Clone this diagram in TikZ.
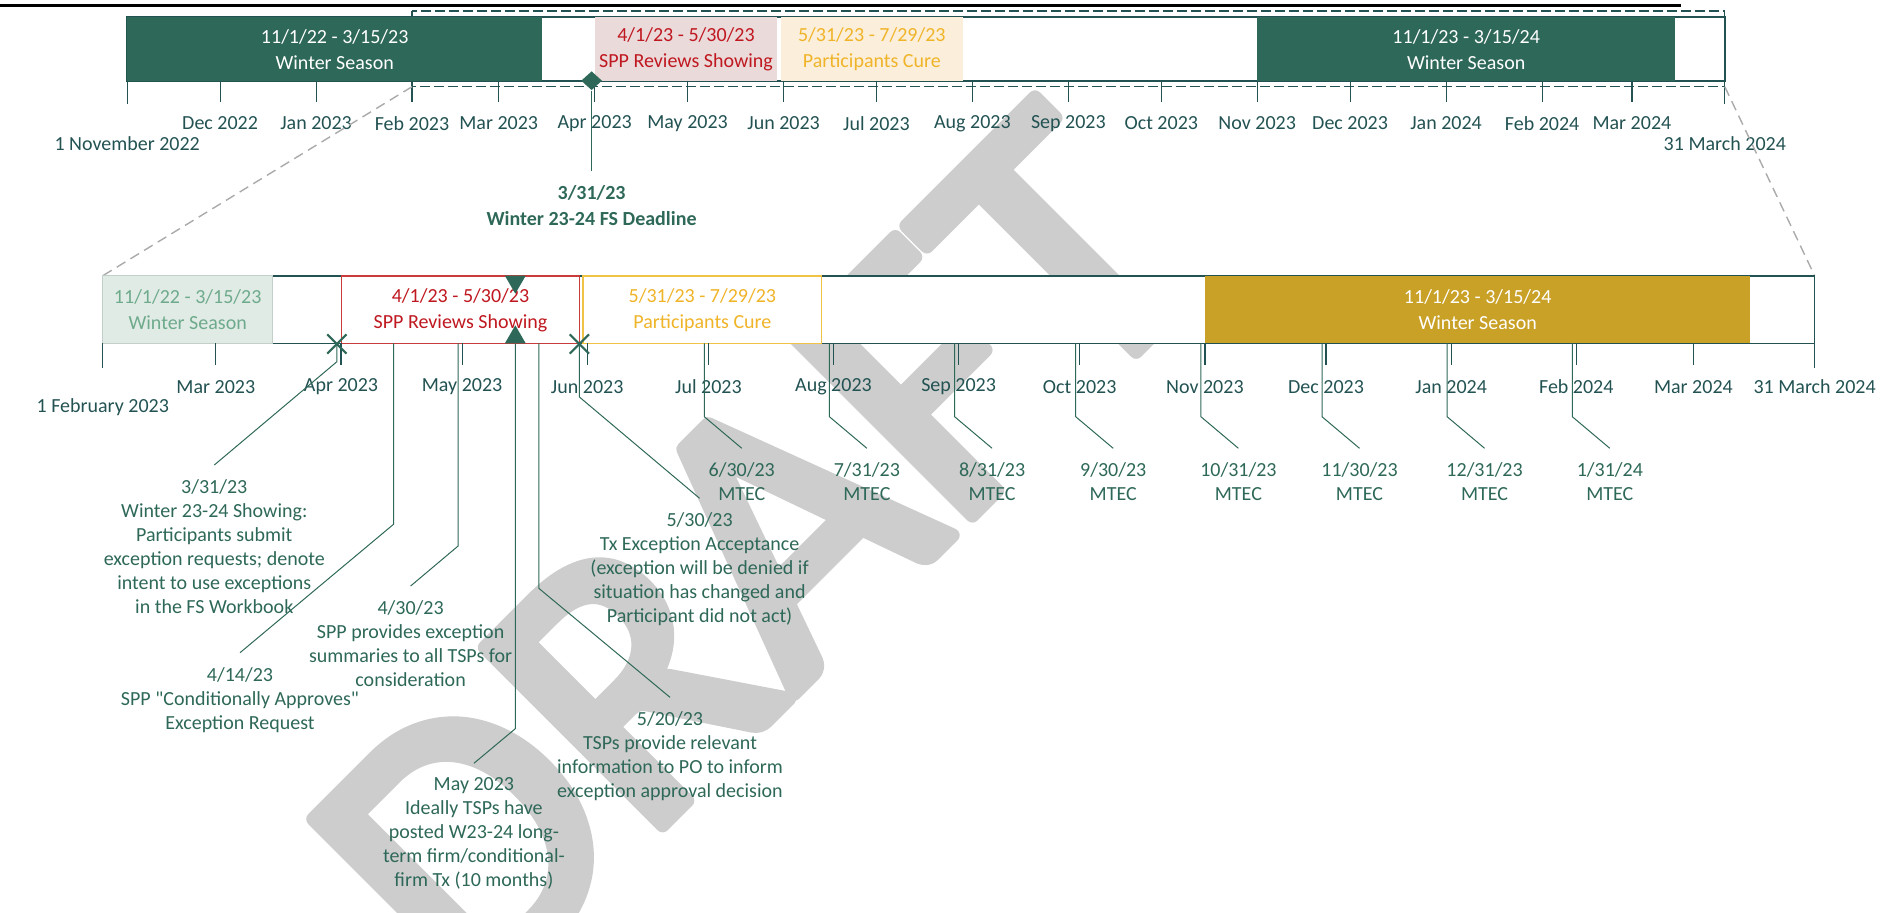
\documentclass[tikz,border=0pt]{standalone}
\usepackage{fontspec}
\setmainfont{Carlito}
\usetikzlibrary{shapes.geometric,shapes.misc}

\definecolor{sppdark}{RGB}{35,82,82}
\definecolor{sppgreen}{RGB}{46,104,88}
\definecolor{spppink}{RGB}{234,218,218}
\definecolor{sppred}{RGB}{192,24,32}
\definecolor{sppredline}{RGB}{200,60,60}
\definecolor{sppcream}{RGB}{251,238,218}
\definecolor{sppyellow}{RGB}{240,180,40}
\definecolor{sppyline}{RGB}{240,195,70}
\definecolor{sppgold}{RGB}{201,161,38}
\definecolor{sppmint}{RGB}{224,235,229}
\definecolor{sppmintline}{RGB}{195,208,201}
\definecolor{sppminttext}{RGB}{110,170,140}
\definecolor{sppgray}{RGB}{170,170,170}
\definecolor{wmgray}{RGB}{205,205,205}

\begin{document}
\begin{tikzpicture}[x=0.5pt, y=-0.5pt,
	every node/.style={inner sep=0pt, text=sppdark, font=\fontsize{10}{12}\selectfont},
	tick/.style={draw=sppdark, line width=0.6pt},
	axis/.style={fill=white, draw=sppdark, line width=0.8pt},
	bartext/.style={align=center, font=\fontsize{10}{13}\selectfont},
	note/.style={align=center, anchor=north, inner ysep=7pt, text=sppgreen},
	callout/.style={draw=sppgreen, line width=0.5pt},
	xmark/.style={cross out, draw=sppgreen, line width=1.1pt, minimum size=8.5pt},
	tri/.style={regular polygon, regular polygon sides=3, fill=sppgreen, minimum size=12pt},
	zoomline/.style={draw=sppgray, line width=0.7pt, dash pattern=on 5pt off 3pt}]
	
	\useasboundingbox (0,0) rectangle (1896,912);
	
	\node[rotate=45, anchor=base west, text=wmgray, font=\fontsize{196}{196}\selectfont] (draft) at (472,1016) {\special{pdf:literal direct 2 Tr 7 w 1 j}DRAFT\special{pdf:literal direct 0 Tr}};
	
	\draw[line width=1.4pt] (0,5.7) -- (1681,5.7);
	
	\draw[sppdark, line width=0.6pt, dash pattern=on 5pt off 2pt] (412,11) rectangle (1724.8,86.7);
	\filldraw[axis] (127.2,16.7) rectangle (1724.8,80.7);
	\fill[sppgreen] (127.2,16.7) rectangle (542.1,80.7);
	\fill[spppink] (594.7,16.7) rectangle (777.4,80.7);
	\fill[sppcream] (780.5,16.7) rectangle (963.1,80.7);
	\fill[sppgreen] (1257.2,16.7) rectangle (1675.2,80.7);
	
	\foreach \x in {220.1,316.1,412.0,498.7,594.7,687.6,783.6,876.4,972.4,1068.4,1161.3,1257.2,1350.1,1446.1,1542.1,1631.9}
		\draw[tick] (\x,80.7) -- (\x,101.7);
	\draw[tick] (127.2,80.7) -- (127.2,104);
	\draw[tick] (1724.8,16.7) -- (1724.8,104);
	
	\foreach \x/\m [count=\i] in {220.1/Dec 2022, 316.1/Jan 2023, 412.0/Feb 2023, 498.7/Mar 2023, 594.7/Apr 2023, 687.6/May 2023, 783.6/Jun 2023, 876.4/Jul 2023, 972.4/Aug 2023, 1068.4/Sep 2023, 1161.3/Oct 2023, 1257.2/Nov 2023, 1350.1/Dec 2023, 1446.1/Jan 2024, 1542.1/Feb 2024, 1631.9/Mar 2024}
		\node (top\i) at (\x,123.3) {\m};
	\node (topstart) at (127.2,143.3) {1 November 2022};
	\node (topend) at (1724.8,143.3) {31 March 2024};
	
	\node[bartext, text=white] (w22) at (334.7,49.5) {11/1/22 - 3/15/23\\Winter Season};
	\node[bartext, text=sppred] (rev) at (686,49.5) {4/1/23 - 5/30/23\\SPP Reviews Showing};
	\node[bartext, text=sppyellow] (cure) at (871.8,49.5) {5/31/23 - 7/29/23\\Participants Cure};
	\node[bartext, text=white] (w23) at (1466.2,49.5) {11/1/23 - 3/15/24\\Winter Season};
	
	\node[diamond, fill=sppgreen, minimum width=10.5pt, minimum height=9.5pt] (fsdl) at (591.6,80.7) {};
	\node[note, font=\bfseries\fontsize{10}{13}\selectfont] (tfs) at (591.6,171) {3/31/23\\Winter 23-24 FS Deadline};
	\draw[callout] (fsdl.south) -- (tfs.north);
	
	\coordinate (zl) at (412,86.7);
	\coordinate (zr) at (1724.8,86.7);
	\coordinate (dl) at (102.8,275.7);
	\coordinate (dr) at (1814.6,275.7);
	\draw[zoomline] (zl) -- (dl);
	\draw[zoomline] (zr) -- (dr);
	
	\filldraw[axis] (102.8,275.7) rectangle (1814.6,343.3);
	\filldraw[fill=sppmint, draw=sppmintline, line width=0.6pt] (102.8,275.7) rectangle (272.6,343.3);
	\filldraw[fill=white, draw=sppredline, line width=0.8pt] (341.6,275.7) rectangle (579.4,343.3);
	\filldraw[fill=white, draw=sppyline, line width=0.8pt] (583.2,275.7) rectangle (821.6,343.3);
	\fill[sppgold] (1204.9,275.7) rectangle (1750.4,343.3);
	
	\foreach \x in {215.8,341.0,462.1,587.2,708.4,833.5,958.6,1079.7,1204.9,1326.0,1451.2,1576.3,1693.4}
		\draw[tick] (\x,343.3) -- (\x,365);
	\draw[tick] (102.8,343.3) -- (102.8,368);
	\draw[tick] (1814.6,275.7) -- (1814.6,368);
	
	\foreach \x/\m [count=\i] in {215.8/Mar 2023, 341.0/Apr 2023, 462.1/May 2023, 587.2/Jun 2023, 708.4/Jul 2023, 833.5/Aug 2023, 958.6/Sep 2023, 1079.7/Oct 2023, 1204.9/Nov 2023, 1326.0/Dec 2023, 1451.2/Jan 2024, 1576.3/Feb 2024, 1693.4/Mar 2024, 1814.6/31 March 2024}
		\node (low\i) at (\x,386.7) {\m};
	\node (lowstart) at (102.8,406.7) {1 February 2023};
	
	\node[bartext, text=sppminttext] (dw22) at (187.7,310) {11/1/22 - 3/15/23\\Winter Season};
	\node[bartext, text=sppred] (drev) at (460.5,310) {4/1/23 - 5/30/23\\SPP Reviews Showing};
	\node[bartext, text=sppyellow] (dcure) at (702.4,310) {5/31/23 - 7/29/23\\Participants Cure};
	\node[bartext, text=white] (dw23) at (1477.7,310) {11/1/23 - 3/15/24\\Winter Season};
	
	\node[xmark] (x331) at (336.9,344) {};
	\node[xmark] (x530) at (579.4,344) {};
	\node[tri, shape border rotate=180] (maydn) at (515.3,281.7) {};
	\node[tri] (mayup) at (515.3,337.3) {};
	\coordinate (b414) at (393.5,343.3);
	\coordinate (b430) at (458.1,343.3);
	\coordinate (b520) at (538.8,343.3);
	
	\node[note] (t331) at (214.3,465) {3/31/23\\Winter 23-24 Showing:\\Participants submit\\exception requests; denote\\intent to use exceptions\\in the FS Workbook};
	\node[note] (t414) at (240,652.7) {4/14/23\\SPP \textquotedbl Conditionally Approves\textquotedbl\\Exception Request};
	\node[note] (t430) at (410.6,586) {4/30/23\\SPP provides exception\\summaries to all TSPs for\\consideration};
	\node[note] (tmay) at (473.9,763.3) {May 2023\\Ideally TSPs have\\posted W23-24 long-\\term firm/conditional-\\firm Tx (10 months)};
	\node[note] (t520) at (670,697.3) {5/20/23\\TSPs provide relevant\\information to PO to inform\\exception approval decision};
	\node[note] (t530) at (699.6,498.3) {5/30/23\\Tx Exception Acceptance\\(exception will be denied if\\situation has changed and\\Participant did not act)};
	
	\draw[callout] (x331.center) -- ++(0,17.7) -- (t331.north);
	\draw[callout] (b414) -- ++(0,181) -- (t414.north);
	\draw[callout] (b430) -- ++(0,202.7) -- (t430.north);
	\draw[callout] (mayup.south) -- ++(0,385) -- (tmay.north);
	\draw[callout] (b520) -- ++(0,245) -- (t520.north);
	\draw[callout] (x530.center) -- ++(0,53) -- (t530.north);
	
	\foreach \x/\dt [count=\i] in {704.3/{6/30/23}, 829.4/{7/31/23}, 954.6/{8/31/23}, 1075.7/{9/30/23}, 1200.9/{10/31/23}, 1322.0/{11/30/23}, 1447.1/{12/31/23}, 1572.3/{1/31/24}}{
		\coordinate (m\i) at (\x,343.3);
		\node[note] (mt\i) at (\x+37.5,448.3) {\dt\\MTEC};
		\draw[callout] (m\i) -- ++(0,73.4) -- (mt\i.north);
	}
	
\end{tikzpicture}
\end{document}
